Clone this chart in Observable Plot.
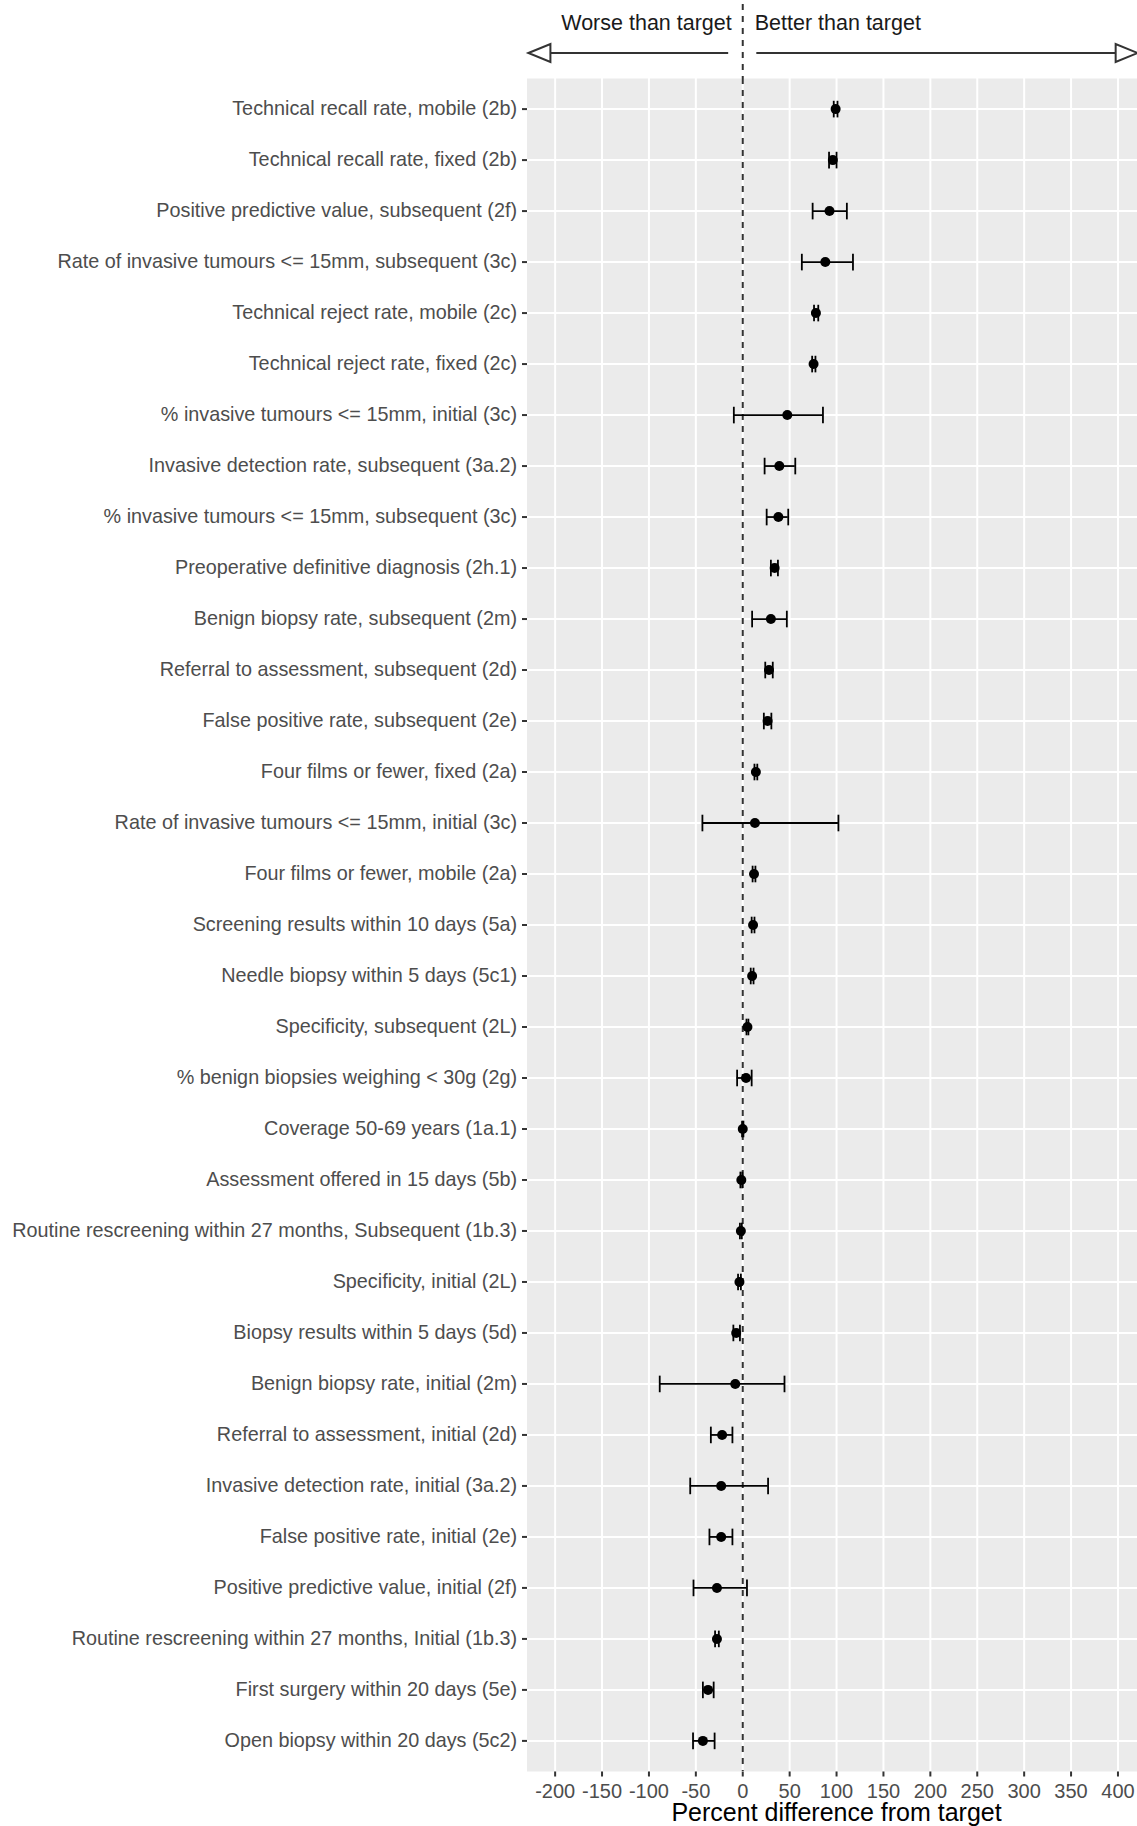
<!DOCTYPE html>
<html>
<head>
<meta charset="utf-8">
<script src="https://cdn.jsdelivr.net/npm/d3@7"></script>
<script src="https://cdn.jsdelivr.net/npm/@observablehq/plot@0.6"></script>
<style>
  html, body { margin: 0; padding: 0; background: #fff; overflow: hidden; }
  #chart { width: 1137px; }
  #chart svg { display: block; max-width: none; }
</style>
</head>
<body>
<div id="chart"></div>
<script>
// ---- Data ----
const names = [
  "Technical recall rate, mobile (2b)",
  "Technical recall rate, fixed (2b)",
  "Positive predictive value, subsequent (2f)",
  "Rate of invasive tumours <= 15mm, subsequent (3c)",
  "Technical reject rate, mobile (2c)",
  "Technical reject rate, fixed (2c)",
  "% invasive tumours <= 15mm, initial (3c)",
  "Invasive detection rate, subsequent (3a.2)",
  "% invasive tumours <= 15mm, subsequent (3c)",
  "Preoperative definitive diagnosis (2h.1)",
  "Benign biopsy rate, subsequent (2m)",
  "Referral to assessment, subsequent (2d)",
  "False positive rate, subsequent (2e)",
  "Four films or fewer, fixed (2a)",
  "Rate of invasive tumours <= 15mm, initial (3c)",
  "Four films or fewer, mobile (2a)",
  "Screening results within 10 days (5a)",
  "Needle biopsy within 5 days (5c1)",
  "Specificity, subsequent (2L)",
  "% benign biopsies weighing < 30g (2g)",
  "Coverage 50-69 years (1a.1)",
  "Assessment offered in 15 days (5b)",
  "Routine rescreening within 27 months, Subsequent (1b.3)",
  "Specificity, initial (2L)",
  "Biopsy results within 5 days (5d)",
  "Benign biopsy rate, initial (2m)",
  "Referral to assessment, initial (2d)",
  "Invasive detection rate, initial (3a.2)",
  "False positive rate, initial (2e)",
  "Positive predictive value, initial (2f)",
  "Routine rescreening within 27 months, Initial (1b.3)",
  "First surgery within 20 days (5e)",
  "Open biopsy within 20 days (5c2)"
];
const est = [99, 96, 92.5, 88, 78, 75.5, 47.5, 39, 38, 34, 30, 28, 26.5, 14, 13, 12, 11, 10, 5, 3.5, 0, -1.5, -2, -3.5, -7, -8, -22, -23, -23, -27.5, -27.5, -37, -42.5];
const lo  = [97, 92, 74.5, 63, 76, 74, -9.5, 23.3, 25.5, 30, 10, 24, 22.5, 12.5, -43, 10.5, 9.5, 8.5, 4, -6, -0.7, -2.5, -3, -5, -10, -88.5, -34, -56, -35.5, -52.5, -29.5, -42.5, -53];
const hi  = [101, 100, 111, 117.5, 80.5, 77.5, 85.5, 56, 48.5, 37.5, 47, 32, 30.5, 15.5, 102, 13.5, 12.5, 11.5, 6, 9.5, 0.7, -0.5, -1, -2, -3, 44.5, -11, 27, -11, 4.5, -25.5, -31, -30];
const xTicks = [-200, -150, -100, -50, 0, 50, 100, 150, 200, 250, 300, 350, 400];
const headerLabels = ["Worse than target", "Better than target"];
const arrowStart = [-15, 15];
const arrowEnd = [-228.5, 421];
const xTitle = "Percent difference from target";

const data = names.map((name, i) => ({name, est: est[i], lo: lo[i], hi: hi[i]}));
const arrows = arrowStart.map((s, i) => ({s, e: arrowEnd[i]}));

// ---- Layout ----
const W = 1137, headerH = 78, mainH = 1748;
const marginLeft = 526.5, marginBottom = 55;
const xDomain = [-230, 430];
const xRange = [marginLeft, 1145.6];
const font = "'Liberation Sans', Arial, Helvetica, sans-serif";
const arrowY = 52.5;

const headLeft = {draw(ctx) { ctx.moveTo(0, 0); ctx.lineTo(22, -9); ctx.lineTo(22, 9); ctx.closePath(); }};
const headRight = {draw(ctx) { ctx.moveTo(0, 0); ctx.lineTo(-22, -9); ctx.lineTo(-22, 9); ctx.closePath(); }};
const tickH = {draw(ctx) { ctx.moveTo(-5, 0); ctx.lineTo(0, 0); }};
const tickV = {draw(ctx) { ctx.moveTo(0, 0); ctx.lineTo(0, 5); }};
const capV = {draw(ctx) { ctx.moveTo(0, -8.3); ctx.lineTo(0, 8.3); }};

const header = Plot.plot({
  width: W, height: headerH,
  marginTop: 0, marginBottom: 0, marginLeft, marginRight: 0,
  x: {domain: xDomain, range: xRange, axis: null},
  y: {domain: [0, headerH], range: [0, headerH], axis: null},
  style: {fontFamily: font, background: "white"},
  marks: [
    Plot.ruleX([0], {y1: 4, y2: headerH, stroke: "#333", strokeWidth: 2, strokeDasharray: "6,6"}),
    Plot.text([headerLabels[0]], {x: 0, y: 14.6, dx: -11, textAnchor: "end", lineAnchor: "top", fontSize: 21.5, fill: "#1a1a1a"}),
    Plot.text([headerLabels[1]], {x: 0, y: 14.6, dx: 12, textAnchor: "start", lineAnchor: "top", fontSize: 21.5, fill: "#1a1a1a"}),
    Plot.ruleY(arrows, {y: arrowY, x1: "s", x2: "e", stroke: "#333", strokeWidth: 2}),
    Plot.dot([arrows[0]], {x: "e", y: arrowY, symbol: headLeft, fill: "white", stroke: "#333", strokeWidth: 2}),
    Plot.dot([arrows[1]], {x: "e", y: arrowY, symbol: headRight, fill: "white", stroke: "#333", strokeWidth: 2})
  ]
});

const main = Plot.plot({
  width: W, height: mainH,
  marginTop: 0, marginBottom, marginLeft, marginRight: 0,
  x: {domain: xDomain, range: xRange, axis: null},
  y: {type: "point", domain: names, padding: 0.6, axis: null},
  style: {fontFamily: font, background: "white"},
  marks: [
    Plot.frame({fill: "#EBEBEB", stroke: "none"}),
    Plot.ruleX(xTicks, {stroke: "white", strokeWidth: 2}),
    Plot.ruleY(names, {stroke: "white", strokeWidth: 2}),
    Plot.ruleX([0], {stroke: "#333", strokeWidth: 2, strokeDasharray: "6,6"}),
    Plot.ruleY(data, {y: "name", x1: "lo", x2: "hi", stroke: "black", strokeWidth: 1.8}),
    Plot.dot(data, {x: "lo", y: "name", symbol: capV, fill: "none", stroke: "black", strokeWidth: 1.8}),
    Plot.dot(data, {x: "hi", y: "name", symbol: capV, fill: "none", stroke: "black", strokeWidth: 1.8}),
    Plot.dot(data, {x: "est", y: "name", r: 5, fill: "black", stroke: "none"}),
    // y axis
    Plot.text(names, {y: d => d, text: d => d, frameAnchor: "left", textAnchor: "end", dx: -10, fontSize: 19.8, fill: "#4D4D4D"}),
    Plot.dot(names, {y: d => d, frameAnchor: "left", symbol: tickH, fill: "none", stroke: "#333", strokeWidth: 2}),
    // x axis
    Plot.dot(xTicks, {x: d => d, frameAnchor: "bottom", symbol: tickV, fill: "none", stroke: "#333", strokeWidth: 2}),
    Plot.text(xTicks, {x: d => d, text: d => String(d), frameAnchor: "bottom", lineAnchor: "top", dy: 12, fontSize: 20, fill: "#4D4D4D"}),
    Plot.text([xTitle], {x: (xDomain[0] + xDomain[1]) / 2, frameAnchor: "bottom", lineAnchor: "top", dy: 32, fontSize: 25, fill: "black"})
  ]
});

const root = document.getElementById("chart");
root.appendChild(header);
root.appendChild(main);
</script>
</body>
</html>
